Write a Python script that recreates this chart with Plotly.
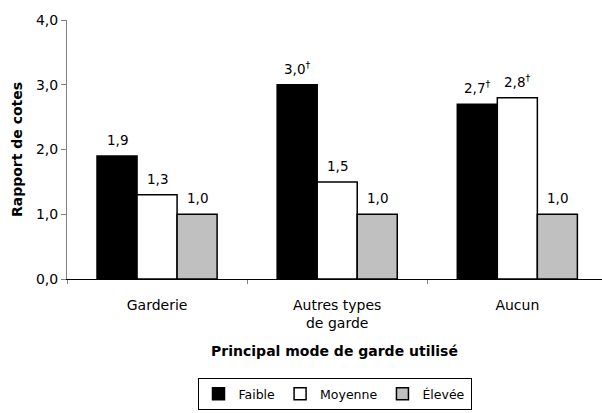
import plotly.graph_objects as go

categories = ["Garderie", "Autres types<br>de garde", "Aucun"]
series_names = ["Faible", "Moyenne", "Élevée"]
faible = [1.9, 3.0, 2.7]
moyenne = [1.3, 1.5, 2.8]
elevee = [1.0, 1.0, 1.0]
# Footnote marker shown beside selected values
dagger = [[False, True, True], [False, False, True], [False, False, False]]
colors = ["#000000", "#ffffff", "#c0c0c0"]

FONT = "DejaVu Sans, Verdana, sans-serif"
values = [faible, moyenne, elevee]

fig = go.Figure()
for name, vals, col in zip(series_names, values, colors):
    fig.add_trace(go.Bar(
        x=categories, y=vals, name=name,
        marker=dict(color=col, line=dict(color="#000000", width=1.5)),
    ))

# Value labels above each bar
n = len(series_names)
bargap = 1 / 3
bw = (1 - bargap) / n
for s, vals in enumerate(values):
    offset = (s - (n - 1) / 2) * bw
    for i, v in enumerate(vals):
        label = f"{v:.1f}".replace(".", ",")
        if dagger[s][i]:
            label += "<sup>†</sup>"
        fig.add_annotation(
            x=i + offset, y=v, xref="x", yref="y",
            text=label, showarrow=False, yanchor="bottom", yshift=6,
            font=dict(family=FONT, size=13.5, color="#000000"),
        )

fig.update_layout(
    width=602, height=413,
    margin=dict(l=67, r=0, t=20, b=134),
    paper_bgcolor="#ffffff", plot_bgcolor="#ffffff",
    separators=", ",
    barmode="group", bargap=bargap, bargroupgap=0,
    font=dict(family=FONT, size=14, color="#000000"),
    showlegend=True,
    legend=dict(
        orientation="h", x=0.5, xanchor="center", y=-0.506, yanchor="bottom",
        bordercolor="#000000", borderwidth=1,
        font=dict(family=FONT, size=12.5),
        itemwidth=30, tracegroupgap=0,
    ),
)
fig.update_xaxes(
    type="category", range=[-0.5, 2.47],
    showline=True, linecolor="#000000", linewidth=1,
    tickson="boundaries", ticks="outside", ticklen=4, tickcolor="#808080",
    ticklabelstandoff=13,
    showgrid=False, automargin=False,
    tickfont=dict(family=FONT, size=14),
    title=dict(text="<b>Principal mode de garde utilisé</b>", standoff=16,
               font=dict(family=FONT, size=14)),
)
fig.update_yaxes(
    range=[0, 4], dtick=1, tickformat=".1f",
    showline=True, linecolor="#808080", linewidth=1,
    ticks="outside", ticklen=5, tickcolor="#808080",
    showgrid=False, zeroline=False, automargin=False,
    tickfont=dict(family=FONT, size=14),
    title=dict(text="<b>Rapport de cotes</b>", standoff=10,
               font=dict(family=FONT, size=14)),
)

fig.write_html("out.html")
